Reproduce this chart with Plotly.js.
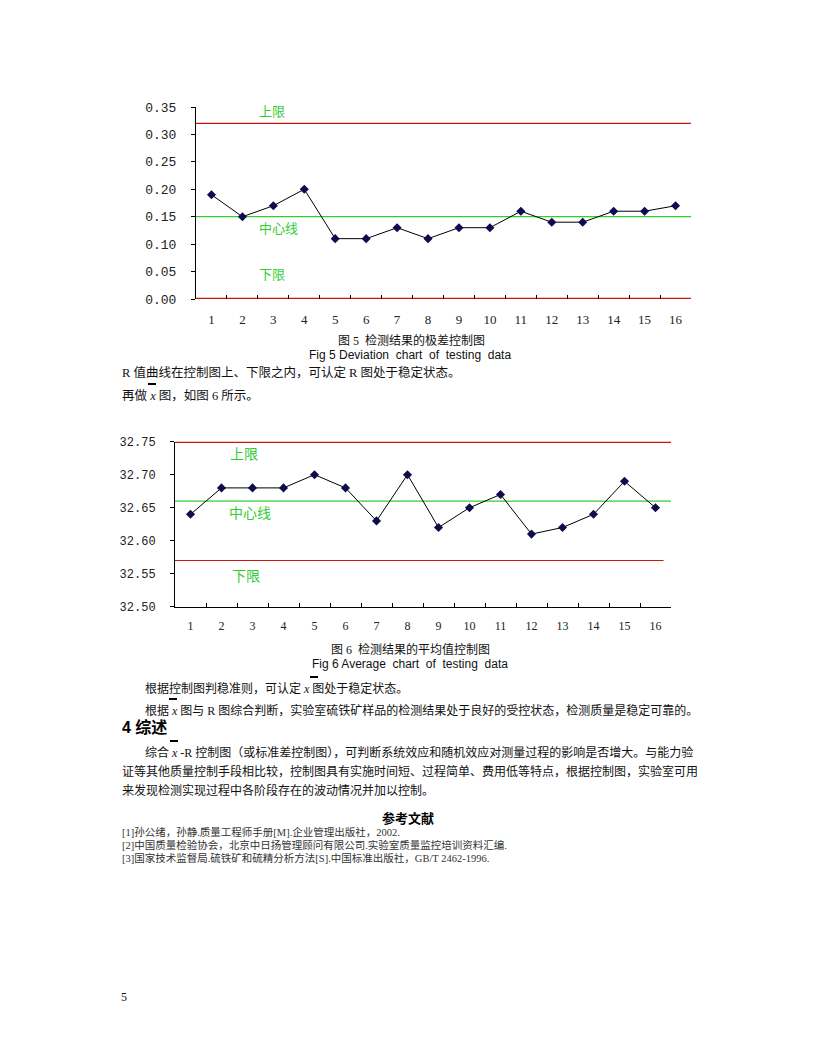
<!DOCTYPE html>
<html>
<head>
<meta charset="utf-8">
<script src="https://cdn.plot.ly/plotly-3.0.1.min.js"></script>
<style>html,body{margin:0;padding:0;background:#fff;}#chart{width:816px;height:1056px;}</style>
</head>
<body>
<div id="chart"></div>
<script>
// ---------- data ----------
const sampleLabels = ['1','2','3','4','5','6','7','8','9','10','11','12','13','14','15','16'];
const rangeValues = [0.19,0.15,0.17,0.20,0.11,0.11,0.13,0.11,0.13,0.13,0.16,0.14,0.14,0.16,0.16,0.17];
const rangeLimits = {ucl:0.32, cl:0.15, lcl:0.00};
const meanValues = [32.64,32.68,32.68,32.68,32.70,32.68,32.63,32.70,32.62,32.65,32.67,32.61,32.62,32.64,32.69,32.65];
const meanLimits = {ucl:32.75, cl:32.66, lcl:32.57};
const limitNames = {ucl:'上限', cl:'中心线', lcl:'下限'};

// ---------- helpers (page pixel -> paper) ----------
const W = 816, H = 1056;
const px = x => x / W;
const py = y => 1 - y / H;

const RED = '#cc1414', GREEN = '#33cc33', NAVY = '#0c0c4e';
const CJK = 'Liberation Serif, Noto Sans CJK SC';

const traces = [
  {x: sampleLabels, y: rangeValues, xaxis:'x', yaxis:'y', type:'scatter', mode:'lines+markers',
   line:{color:'#000', width:1}, marker:{symbol:'diamond', size:7, color:NAVY}, hoverinfo:'skip'},
  {x: sampleLabels, y: meanValues, xaxis:'x2', yaxis:'y2', type:'scatter', mode:'lines+markers',
   line:{color:'#000', width:1}, marker:{symbol:'diamond', size:7, color:NAVY}, hoverinfo:'skip'}
];

function hline(xr, yr, yv, color, x1, w) {
  return {type:'line', xref:xr+' domain', yref:yr, x0:0, x1:(x1===undefined?1:x1), y0:yv, y1:yv,
          line:{color:color, width:(w||1.2)}, layer:'below'};
}
const shapes = [
  hline('x','y',rangeLimits.ucl,RED),
  hline('x','y',rangeLimits.cl,GREEN),
  hline('x','y',rangeLimits.lcl,RED,1,2.4),
  hline('x2','y2',meanLimits.ucl,RED,1,2.4),
  hline('x2','y2',meanLimits.cl,GREEN),
  hline('x2','y2',meanLimits.lcl,RED,0.985)
];
// overbars for x̄
[[148,156,384],[310,318,677],[169,177,699],[170,178,741]].forEach(b=>{
  shapes.push({type:'line', xref:'paper', yref:'paper', x0:px(b[0]), x1:px(b[1]), y0:py(b[2]), y1:py(b[2]),
               line:{color:'#000', width:2}});
});

function txt(x, y, text, size, opts) {
  return Object.assign({xref:'paper', yref:'paper', x:px(x), y:py(y), text:text, showarrow:false,
    xanchor:'left', yanchor:'middle', font:{family:CJK, size:size, color:'#111'}}, opts||{});
}
const gfont = s => ({font:{family:'Noto Sans CJK SC',size:s,color:GREEN}});
const ann = [
  // chart 1 limit labels
  txt(257,111,limitNames.ucl,13,gfont(13)),
  txt(257,227,limitNames.cl,13,gfont(13)),
  txt(257,273,limitNames.lcl,13,gfont(13)),
  // chart 2 limit labels
  txt(228,453,limitNames.ucl,14,gfont(14)),
  txt(227,512,limitNames.cl,14,gfont(14)),
  txt(230,575,limitNames.lcl,14,gfont(14)),
  // captions & body text
  txt(411,340,'图 5  检测结果的极差控制图',12,{xanchor:'center'}),
  txt(410,355,'Fig 5 Deviation  chart  of  testing  data',12,{xanchor:'center',font:{family:'Liberation Sans',size:12,color:'#111'}}),
  txt(120,372,'R 值曲线在控制图上、下限之内，可认定 R 图处于稳定状态。',12.5),
  txt(120,395,'再做 <i>x</i> 图，如图 6 所示。',12.5),
  txt(410,649,'图 6  检测结果的平均值控制图',12,{xanchor:'center'}),
  txt(410,664,'Fig 6 Average  chart  of  testing  data',12,{xanchor:'center',font:{family:'Liberation Sans',size:12,color:'#111'}}),
  txt(143,688,'根据控制图判稳准则，可认定 <i>x</i> 图处于稳定状态。',12),
  txt(143,710,'根据 <i>x</i> 图与 R 图综合判断，实验室硫铁矿样品的检测结果处于良好的受控状态，检测质量是稳定可靠的。',12),
  txt(120,727,'<b>4 综述</b>',16,{font:{family:'Liberation Sans, Noto Sans CJK SC',size:16,color:'#000'}}),
  txt(143,752,'综合 <i>x</i> -R 控制图（或标准差控制图），可判断系统效应和随机效应对测量过程的影响是否增大。与能力验',12),
  txt(120,771,'证等其他质量控制手段相比较，控制图具有实施时间短、过程简单、费用低等特点，根据控制图，实验室可用',12),
  txt(120,790,'来发现检测实现过程中各阶段存在的波动情况并加以控制。',12),
  txt(408,817,'<b>参考文献</b>',13,{xanchor:'center',font:{family:'Noto Sans CJK SC',size:13,color:'#000'}}),
  txt(120,832,'[1]孙公绪，孙静.质量工程师手册[M].企业管理出版社，2002.',10.5,{font:{family:CJK,size:10.5,color:'#333'}}),
  txt(120,845,'[2]中国质量检验协会，北京中日扬管理顾问有限公司.实验室质量监控培训资料汇编.',10.5,{font:{family:CJK,size:10.5,color:'#333'}}),
  txt(120,858,'[3]国家技术监督局.硫铁矿和硫精分析方法[S].中国标准出版社，GB/T 2462-1996.',10.5,{font:{family:CJK,size:10.5,color:'#333'}}),
  txt(119,997,'5',12,{font:{family:'Liberation Serif',size:12,color:'#111'}})
];

const xCommon = {type:'category', tickson:'boundaries', ticks:'inside', ticklen:4, tickcolor:'#000',
  showgrid:false, zeroline:false, fixedrange:true};
const yCommon = {ticks:'outside', ticklen:4, tickcolor:'#000', showline:true, linecolor:'#000', linewidth:1,
  showgrid:false, zeroline:false, fixedrange:true};

const layout = {
  width:W, height:H, margin:{l:0,r:0,t:0,b:0}, paper_bgcolor:'#fff', plot_bgcolor:'rgba(0,0,0,0)',
  showlegend:false,
  xaxis: Object.assign({}, xCommon, {domain:[px(196),px(691)], anchor:'y', showline:false,
    range:[-0.5,15.5], tickfont:{family:'Liberation Serif', size:13, color:'#222'}, ticklabelstandoff:11}),
  yaxis: Object.assign({}, yCommon, {domain:[py(299),py(107)], anchor:'x', range:[0,0.35], dtick:0.05,
    tickformat:'.2f', tickfont:{family:'Liberation Mono', size:13, color:'#222'}, ticklabelstandoff:12}),
  xaxis2: Object.assign({}, xCommon, {domain:[px(175),px(671)], anchor:'y2', showline:true, linecolor:'#000',
    range:[-0.5,15.5], tickfont:{family:'Liberation Serif', size:12, color:'#222'}, ticklabelstandoff:8}),
  yaxis2: Object.assign({}, yCommon, {domain:[py(606.7),py(441.7)], anchor:'x2', range:[32.5,32.75], dtick:0.05,
    tickformat:'.2f', tickfont:{family:'Liberation Mono', size:12, color:'#222'}, ticklabelstandoff:12}),
  shapes: shapes,
  annotations: ann
};

Plotly.newPlot('chart', traces, layout, {displayModeBar:false, staticPlot:true});
</script>
</body>
</html>
